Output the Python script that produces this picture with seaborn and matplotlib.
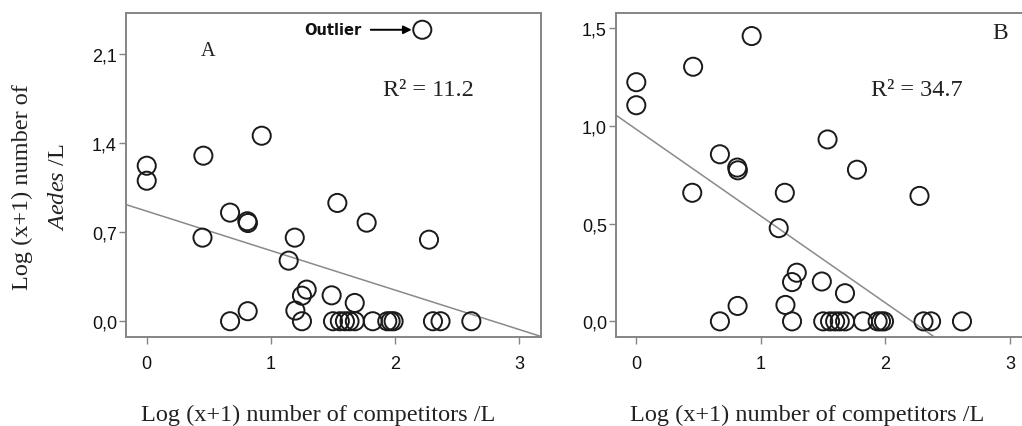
import matplotlib
matplotlib.use("Agg")
import matplotlib.pyplot as plt
import seaborn as sns
import pandas as pd

# ---- data ----
x_vals = [0.000, 0.000, 0.456, 0.449, 0.926, 0.671, 0.810, 0.815, 1.535, 1.771,
          2.273, 1.192, 1.143, 1.288, 1.250, 1.489, 1.675, 1.197, 0.813,
          0.671, 1.250, 1.500, 1.555, 1.596, 1.633, 1.676, 1.820, 1.937, 1.964,
          1.988, 2.305, 2.366, 2.614]
y_vals = [1.224, 1.106, 1.303, 0.658, 1.460, 0.855, 0.787, 0.773, 0.931, 0.776,
          0.642, 0.658, 0.477, 0.249, 0.201, 0.204, 0.144, 0.084, 0.079,
          0.0, 0.0, 0.0, 0.0, 0.0, 0.0, 0.0, 0.0, 0.0, 0.0,
          0.0, 0.0, 0.0, 0.0]
outlier_x = [2.219]
outlier_y = [2.294]

xticks = [0, 1, 2, 3]
xtick_labels = ["0", "1", "2", "3"]
yticks_A = [0.0, 0.7, 1.4, 2.1]
ytick_labels_A = ["0,0", "0,7", "1,4", "2,1"]
yticks_B = [0.0, 0.5, 1.0, 1.5]
ytick_labels_B = ["0,0", "0,5", "1,0", "1,5"]
r2_A = "11.2"
r2_B = "34.7"

dfA = pd.DataFrame({"x": x_vals + outlier_x, "y": y_vals + outlier_y})
dfB = pd.DataFrame({"x": x_vals, "y": y_vals})

sns.set_theme(style="white")
plt.rcParams["font.family"] = ["Liberation Sans", "DejaVu Sans"]
plt.rcParams["mathtext.fontset"] = "custom"
plt.rcParams["mathtext.rm"] = "Liberation Serif"
plt.rcParams["mathtext.it"] = "Liberation Serif:italic"

W, H = 1022, 427
fig = plt.figure(figsize=(W / 100, H / 100), dpi=100)

def px_axes(l, r, t, b):
    return fig.add_axes([l / W, (H - b) / H, (r - l) / W, (b - t) / H])

axA = px_axes(126, 541, 14, 338)
axB = px_axes(616, 1031, 14, 338)

spine_col = "#858585"
serif = ["Liberation Serif", "DejaVu Serif"]

def style(ax, xlim, ylim, yt, ytl):
    ax.set_xlim(*xlim)
    ax.set_ylim(*ylim)
    ax.set_xticks(xticks)
    ax.set_xticklabels(xtick_labels)
    ax.set_yticks(yt)
    ax.set_yticklabels(ytl)
    for s in ax.spines.values():
        s.set_color(spine_col)
        s.set_linewidth(1.4)
    ax.tick_params(axis="both", which="major", direction="out", length=5,
                   width=1.0, color=spine_col, labelsize=13, labelcolor="#111111",
                   left=True, bottom=True)
    ax.tick_params(axis="x", pad=8)
    ax.tick_params(axis="y", pad=1.5)
    ax.set_xlabel("")
    ax.set_ylabel("")

def draw(ax, df):
    sns.regplot(data=df, x="x", y="y", ax=ax, scatter=False, ci=None,
                truncate=False, line_kws={"color": "#8a8a8a", "lw": 1.1})
    sns.scatterplot(data=df, x="x", y="y", ax=ax, marker="o", s=170,
                    facecolor="none", edgecolor="#1a1a1a", linewidth=1.4,
                    legend=False, zorder=3)

style(axA, (-0.167, 3.175), (-0.124, 2.426), yticks_A, ytick_labels_A)
draw(axA, dfA)
style(axA, (-0.167, 3.175), (-0.124, 2.426), yticks_A, ytick_labels_A)

style(axB, (-0.163, 3.168), (-0.080, 1.578), yticks_B, ytick_labels_B)
draw(axB, dfB)
style(axB, (-0.163, 3.168), (-0.080, 1.578), yticks_B, ytick_labels_B)

# annotations
axA.annotate("Outlier", xy=(outlier_x[0] - 0.085, outlier_y[0]),
             xytext=(1.733, outlier_y[0]), ha="right", va="center",
             fontsize=10.5, fontweight="bold", family=["DejaVu Sans"],
             color="#111111",
             arrowprops=dict(arrowstyle="-|>", color="black", lw=1.4,
                             shrinkA=4, shrinkB=0, mutation_scale=12))
axA.text(0.198, 0.883, "A", transform=axA.transAxes, ha="center", va="center",
         fontsize=14.5, family=serif, color="#222222")
axA.text(0.728, 0.765, "R\u00b2 = " + r2_A, transform=axA.transAxes, ha="center",
         va="center", fontsize=17.5, family=serif, color="#222222")
axB.text(0.925, 0.941, "B", transform=axB.transAxes, ha="center", va="center",
         fontsize=17, family=serif, color="#222222")
axB.text(0.725, 0.765, "R\u00b2 = " + r2_B, transform=axB.transAxes, ha="center",
         va="center", fontsize=17.5, family=serif, color="#222222")

# axis titles
fig.text(22 / W, (H - 187.5) / H, "Log (x+1) number of", rotation=90,
         ha="center", va="center", fontsize=17.5, family=serif, color="#222222")
fig.text(58 / W, (H - 187.5) / H, r"$\mathit{Aedes}$ /L", rotation=90,
         ha="center", va="center", fontsize=17.5, family=serif, color="#222222")
fig.text(318 / W, (H - 415) / H, "Log (x+1) number of competitors /L",
         ha="center", va="center", fontsize=17.5, family=serif, color="#222222")
fig.text(807 / W, (H - 415) / H, "Log (x+1) number of competitors /L",
         ha="center", va="center", fontsize=17.5, family=serif, color="#222222")

fig.savefig("out.png", dpi=100)
